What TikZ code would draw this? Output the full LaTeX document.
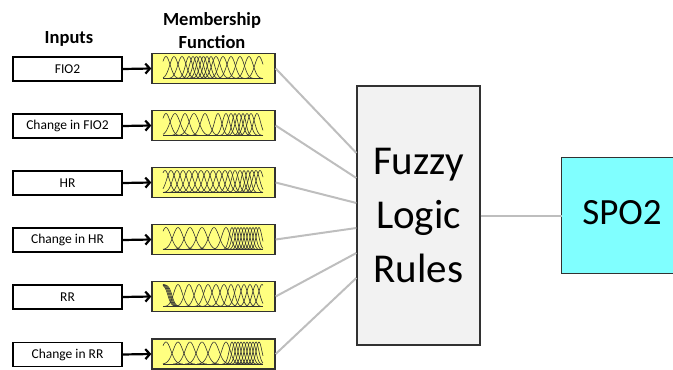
\documentclass[tikz,border=0pt]{standalone}
\usepackage{fontspec}
\setmainfont{Carlito}
\usetikzlibrary{arrows.meta,calc}

\definecolor{mfyellow}{RGB}{255,255,128}
\definecolor{rulegray}{RGB}{242,242,242}
\definecolor{outcyan}{RGB}{128,255,255}
\definecolor{linkgray}{RGB}{190,190,190}
\definecolor{edgedark}{RGB}{50,50,50}

% one bell-shaped membership function: centre, spread
\newcommand\mfbell[2]{%
  \pgfmathsetmacro\mfa{max(163,#1-2.4*#2)}%
  \pgfmathsetmacro\mfb{min(263,#1+2.4*#2)}%
  \draw[mfcurve] plot[domain=\mfa:\mfb,samples=30]
    (\x,{10-22*exp(-((\x-#1)/#2)*((\x-#1)/#2))});%
}
% one falling sigmoid membership function: centre
\newcommand\mfsig[1]{%
  \pgfmathsetmacro\mfb{#1+10}%
  \draw[mfcurve] plot[domain=163:\mfb,samples=30]
    (\x,{10-22/(1+exp((\x-#1)/1.7))});%
}

\begin{document}
\begin{tikzpicture}[x=1pt,y=-1pt,
  inbox/.style={draw=black,line width=1.8pt,fill=white,minimum width=109pt,
    minimum height=24pt,inner sep=0pt,font=\fontsize{13.5}{16}\selectfont},
  mfbox/.style={draw=edgedark,line width=1.3pt,fill=mfyellow,minimum width=123pt,
    minimum height=30pt,inner sep=0pt},
  mfcurve/.style={line width=0.6pt,black!80},
  feed/.style={line width=2.2pt,-{Straight Barb[length=4.5pt,width=10pt]}},
  link/.style={line width=2pt,linkgray},
  title/.style={font=\bfseries\fontsize{18.5}{22}\selectfont,anchor=base,inner sep=0pt}]

\useasboundingbox (0,0) rectangle (673,370);

% column titles
\node[title] (tin) at (69,43) {Inputs};
\node[title] (tm1) at (212,25) {Membership};
\node[title] (tm2) at (212,48) {Function};

% rule block and output
\node[draw=edgedark,line width=1.3pt,fill=rulegray,minimum width=123pt,
  minimum height=259pt,inner sep=0pt,align=center,
  font=\fontsize{41}{54}\selectfont] (fz) at (418.5,215.5) {Fuzzy\\Logic\\Rules};
\node[fill=outcyan,minimum width=111pt,minimum height=115pt,inner sep=0pt]
  (spo) at (617.5,215.5) {};
\draw[edgedark,line width=1.3pt] (spo.north east) -- (spo.north west)
  -- (spo.south west) -- (spo.south east);
\node[font=\fontsize{37}{40}\selectfont,inner sep=0pt] (spotxt) at (622,213) {SPO2};
\draw[link] (fz.east) -- (spo.west);

% input rows
\foreach \k/\yc/\txt in {1/69/FIO2,2/126/Change in FIO2,3/183/HR,
    4/240/Change in HR,5/297/RR,6/354.5/Change in RR}{
  \node[inbox] (in\k) at (67.5,\yc) {\txt};
  \node[mfbox] (mf\k) at (213.5,\yc-0.5) {};
  \draw[feed] (in\k.east) -- (mf\k.west);
  \draw[link] (mf\k.east) -- ($(fz.west)+(0,{(\k-3.5)*25})$);
}

% membership function curves, one scope per row
\begin{scope}[shift={(0,68.5)}]
  \draw[mfcurve,line width=0.9pt] (163,10) -- (263,10);
  \foreach \c/\w in {166/6,174/6,182/6,189/5,193/5,196.5/5,200/5,203.5/5,
      207/5,211/5,216/6,223/6,231/6,240/6,249/6,259/6}{\mfbell{\c}{\w}}
\end{scope}
\begin{scope}[shift={(0,125.5)}]
  \draw[mfcurve,line width=0.9pt] (163,10) -- (263,10);
  \foreach \c/\w in {166/6,175/7,185/6,194/7,205/6,218/5,226/5,231/5,235/4,
      239/5,243/4,247/5,251/5,257/5}{\mfbell{\c}{\w}}
\end{scope}
\begin{scope}[shift={(0,182.5)}]
  \draw[mfcurve,line width=0.9pt] (163,10) -- (263,10);
  \foreach \c/\w in {165/6,171/6,177/6,183/6,189/6,195/6,201/6,207/6,
      213/6,219/6,225/6,230/5,235/5,240/5,244/4,248/4,252/5,
      256/5,260/5}{\mfbell{\c}{\w}}
\end{scope}
\begin{scope}[shift={(0,239.5)}]
  \draw[mfcurve,line width=0.9pt] (163,10) -- (263,10);
  \foreach \c/\w in {166/7,178/7,190/7,202/7,214/7,226/6,232/4,235/4,238/4,
      241/4,244/4,247/4,250/4,253/4,256/4,259/4}{\mfbell{\c}{\w}}
\end{scope}
\begin{scope}[shift={(0,296.5)}]
  \draw[mfcurve,line width=0.9pt] (163,10) -- (263,10);
  \foreach \c in {168,169,170,171,172}{\mfsig{\c}}
  \foreach \c/\w in {178/6,189/6,199/6,208/6,216/6,224/6,231/5,238/5,244/5,
      250/5,256/5,262/5}{\mfbell{\c}{\w}}
\end{scope}
\begin{scope}[shift={(0,354)}]
  \draw[mfcurve,line width=0.9pt] (163,10) -- (263,10);
  \foreach \c/\w in {166/7,178/7,190/7,202/7,214/7,226/6,232/4,235/4,238/4,
      241/4,244/4,247/4,250/4,253/4,256/4,259/4}{\mfbell{\c}{\w}}
\end{scope}
\end{tikzpicture}
\end{document}
